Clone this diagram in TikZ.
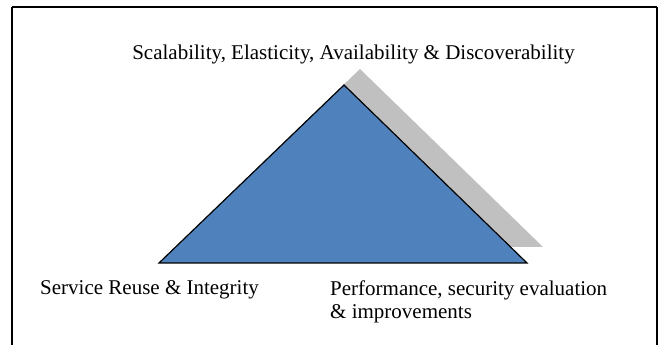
\documentclass[tikz,border=0pt]{standalone}
\usepackage{fontspec}
\setmainfont{Liberation Serif}
\usepackage{tikz}
\usetikzlibrary{shapes,arrows.meta}
\definecolor{pyrblue}{HTML}{4F81BD}
\definecolor{pyrshadow}{HTML}{C0C0C0}
\tikzset{pyrlabel/.style={font=\fontsize{21}{22.5}\selectfont, inner sep=0pt, align=left}}
\newcommand{\pyrcorner}[2] {\coordinate (#2) at (#1);}
\newcommand{\pyrtext}[4] {\node at (#1) (#2) [pyrlabel, anchor=#3] {#4};}
\newcommand{\pyredge}[2] {\draw [line width=2pt] (#1) -- (#2);}

\begin{document}
\begin{tikzpicture}[x=1pt, y=1pt]
\useasboundingbox (0,0) rectangle (661,345);
\pyrcorner {12,0} {fbl}
\pyrcorner {12,338} {ftl}
\pyrcorner {657,338} {ftr}
\pyrcorner {657,0} {fbr}
\pyredge {fbl}{ftl};
\pyredge {ftl}{ftr};
\pyredge {ftr}{fbr};

\pyrcorner {344,260} {top}
\pyrcorner {159,82} {left}
\pyrcorner {527,82} {right}
\pyrcorner {360,276} {stop}
\pyrcorner {175,98} {sleft}
\pyrcorner {543,98} {sright}

\fill [pyrshadow] (stop) -- (sleft) -- (sright) -- cycle;
\draw [fill=pyrblue, line width=1.2pt, line join=miter] (top) -- (left) -- (right) -- cycle;

\pyrtext {353.5,285} {scale} {base} {Scalability, Elasticity, Availability \& Discoverability};
\pyrtext {40,50} {reuse} {base west} {Service Reuse \& Integrity};
\pyrtext {330,26.5} {perf} {base west} {Performance, security evaluation\\\& improvements};
\end{tikzpicture}
\end{document}
